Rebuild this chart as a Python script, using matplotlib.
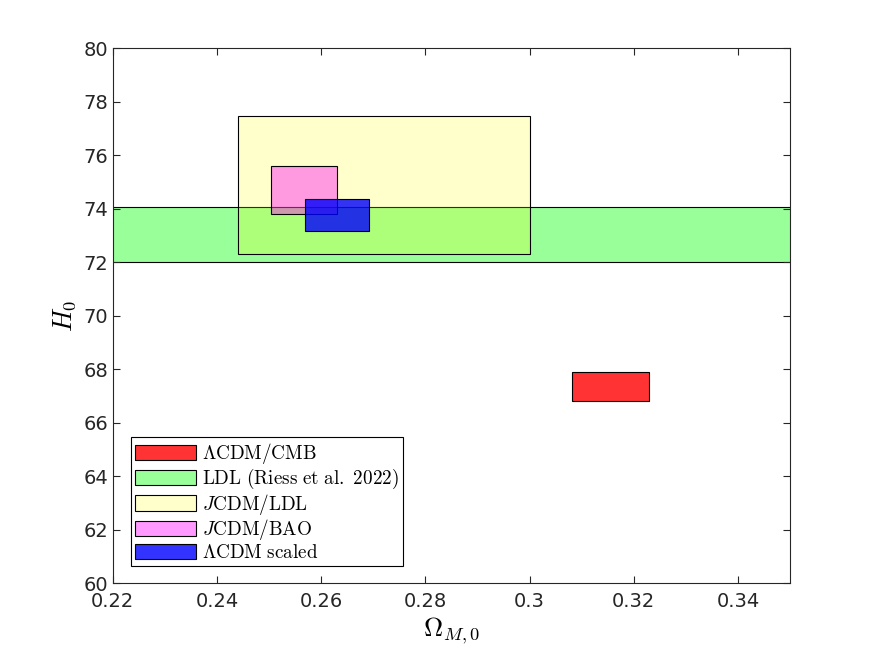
import matplotlib
matplotlib.use("Agg")
import matplotlib.pyplot as plt
from matplotlib.patches import Rectangle

plt.rcParams['mathtext.fontset'] = 'cm'
plt.rcParams['font.family'] = 'DejaVu Sans'

# boxes: (omega_min, omega_max, H0_min, H0_max)
labels = [r"$\Lambda\mathrm{CDM/CMB}$",
          r"$\mathrm{LDL\ (Riess\ et\ al.\ 2022)}$",
          r"$J\mathrm{CDM/LDL}$",
          r"$J\mathrm{CDM/BAO}$",
          r"$\Lambda\mathrm{CDM\ scaled}$"]
om_lo = [0.3081, 0.20, 0.2440, 0.2503, 0.2569]
om_hi = [0.3229, 0.40, 0.3001, 0.2630, 0.2692]
h_lo = [66.8, 72.0, 72.3, 73.8, 73.16]
h_hi = [67.9, 74.06, 77.46, 75.6, 74.36]
colors = ['red', 'lime', 'yellow', 'magenta', 'blue']
alphas = [0.8, 0.4, 0.2, 0.4, 0.8]

fig = plt.figure(figsize=(8.75, 6.56), dpi=100)
ax = fig.add_axes([0.129, 0.111, 0.774, 0.8155])

handles = []
for i in range(len(labels)):
    r = Rectangle((om_lo[i], h_lo[i]), om_hi[i] - om_lo[i], h_hi[i] - h_lo[i],
                  facecolor=matplotlib.colors.to_rgba(colors[i], alphas[i]),
                  edgecolor='black', linewidth=0.8)
    ax.add_patch(r)
    handles.append(r)

ax.set_xlim(0.22, 0.35)
ax.set_ylim(60, 80)
ax.set_xticks([0.22, 0.24, 0.26, 0.28, 0.3, 0.32, 0.34])
ax.set_xticklabels(['0.22', '0.24', '0.26', '0.28', '0.3', '0.32', '0.34'])
ax.set_yticks(range(60, 81, 2))
ax.tick_params(direction='in', top=True, right=True, labelsize=14, length=5,
               width=0.8, colors='#262626', labelcolor='#262626')
ax.tick_params(axis='x', pad=6)
for s in ax.spines.values():
    s.set_linewidth(0.8)
    s.set_color('#262626')
ax.set_xlabel(r"$\Omega_{M,0}$", fontsize=19)
ax.set_ylabel(r"$H_0$", fontsize=19)

leg = ax.legend(handles, labels, loc='lower left', bbox_to_anchor=(0.027, 0.032),
                fontsize=13.8, fancybox=False, framealpha=1, edgecolor='black',
                handlelength=3.2, handleheight=0.85, handletextpad=0.3,
                labelspacing=0.04, borderpad=0.2, borderaxespad=0)
leg.get_frame().set_linewidth(0.8)

fig.savefig('out.png', dpi=100)
